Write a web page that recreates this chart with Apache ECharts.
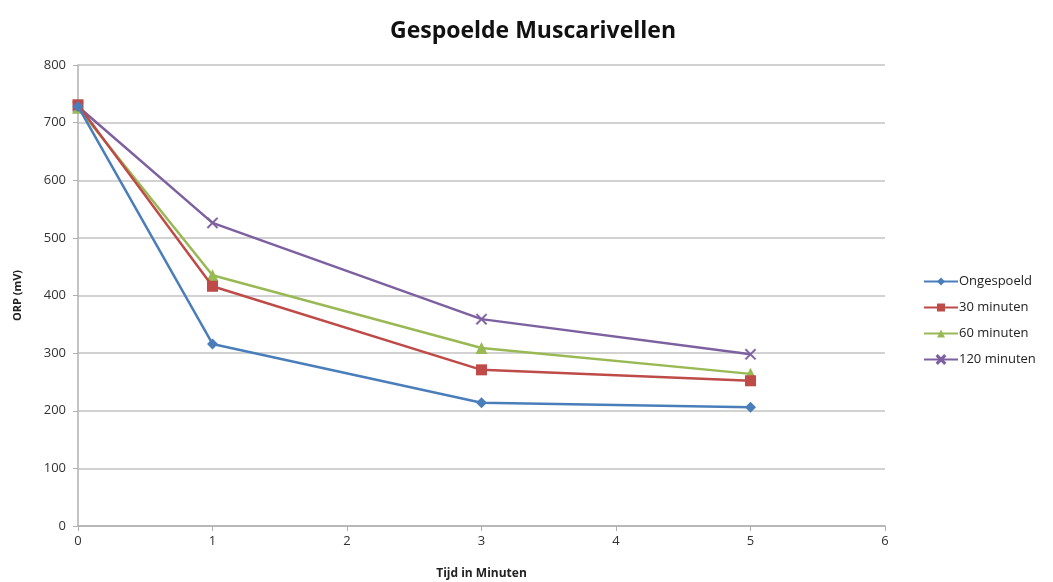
<!DOCTYPE html>
<html lang="nl">
<head>
    <meta charset="UTF-8">
    <title>Gespoelde Muscarivellen</title>
    <script src="https://cdn.jsdelivr.net/npm/echarts@6/dist/echarts.min.js"></script>
    <style>
        html, body { margin: 0; padding: 0; background: #fff; }
        #chart { width: 1053px; height: 582px; }
    </style>
</head>
<body>
<div id="chart"></div>
<script type="text/javascript">
    // tijd in minuten
    var tijd = [0, 1, 3, 5];
    var ongespoeld = [728, 316, 214, 206];
    var min30 = [731, 416, 271, 252];
    var min60 = [726, 435, 309, 264];
    var min120 = [728, 526, 359, 298];
    var seriesNames = ['Ongespoeld', '30 minuten', '60 minuten', '120 minuten'];
    var colors = ['#4a7ebb', '#be4b48', '#98b954', '#7d60a0'];

    function pairs(vals) {
        return tijd.map(function (t, i) { return [t, vals[i]]; });
    }

    var kruis = 'path://M0,1L1,0L5,4L9,0L10,1L6,5L10,9L9,10L5,6L1,10L0,9L4,5Z';
    var symbols = ['diamond', 'rect', 'triangle', kruis];
    var data = [ongespoeld, min30, min60, min120];

    var myChart = echarts.init(document.getElementById('chart'));

    var option = {
        animation: false,
        color: colors,
        textStyle: { fontFamily: 'Open Sans' },
        title: {
            text: 'Gespoelde Muscarivellen',
            left: 528,
            textAlign: 'center',
            top: 15,
            textStyle: { fontSize: 23, fontWeight: 'bold', color: '#111', fontFamily: 'Open Sans' }
        },
        legend: {
            orient: 'vertical',
            left: 918,
            top: 270,
            itemGap: 13,
            itemWidth: 34,
            itemHeight: 10,
            data: seriesNames,
            textStyle: { fontSize: 13, color: '#222', padding: [0, 0, 0, -4] }
        },
        grid: { left: 78, right: 168, top: 65, bottom: 56, outerBoundsMode: 'none' },
        xAxis: {
            type: 'value',
            min: 0,
            max: 6,
            interval: 1,
            name: 'Tijd in Minuten',
            nameLocation: 'middle',
            nameGap: 42,
            nameTextStyle: { fontSize: 12, fontWeight: 'bold', color: '#222' },
            axisLine: { lineStyle: { color: '#b0b0b0', width: 1.5 } },
            axisTick: { show: true, length: 5, lineStyle: { color: '#b0b0b0' } },
            axisLabel: { fontSize: 13, color: '#333', margin: 9 },
            splitLine: { show: false }
        },
        yAxis: {
            type: 'value',
            min: 0,
            max: 800,
            interval: 100,
            name: 'ORP (mV)',
            nameLocation: 'middle',
            nameGap: 55,
            nameRotate: 90,
            nameTextStyle: { fontSize: 11, fontWeight: 'bold', color: '#222' },
            axisLine: { show: true, lineStyle: { color: '#b0b0b0', width: 1.5 } },
            axisTick: { show: true, length: 5, lineStyle: { color: '#b0b0b0' } },
            axisLabel: { fontSize: 13, color: '#333', margin: 12 },
            splitLine: { show: true, lineStyle: { color: '#d2d2d2', width: 2 } }
        },
        series: []
    };

    data.forEach(function (vals, i) {
        option.series.push({
            name: seriesNames[i],
            type: 'line',
            data: pairs(vals),
            symbol: symbols[i],
            symbolSize: i === 2 ? 12 : 11,
            showAllSymbol: true,
            z: 10 - i,
            lineStyle: { width: 2.5, color: colors[i] },
            itemStyle: { color: colors[i], borderColor: colors[i], borderWidth: i === 3 ? 0.5 : 0 }
        });
    });

    myChart.setOption(option);
</script>
</body>
</html>
